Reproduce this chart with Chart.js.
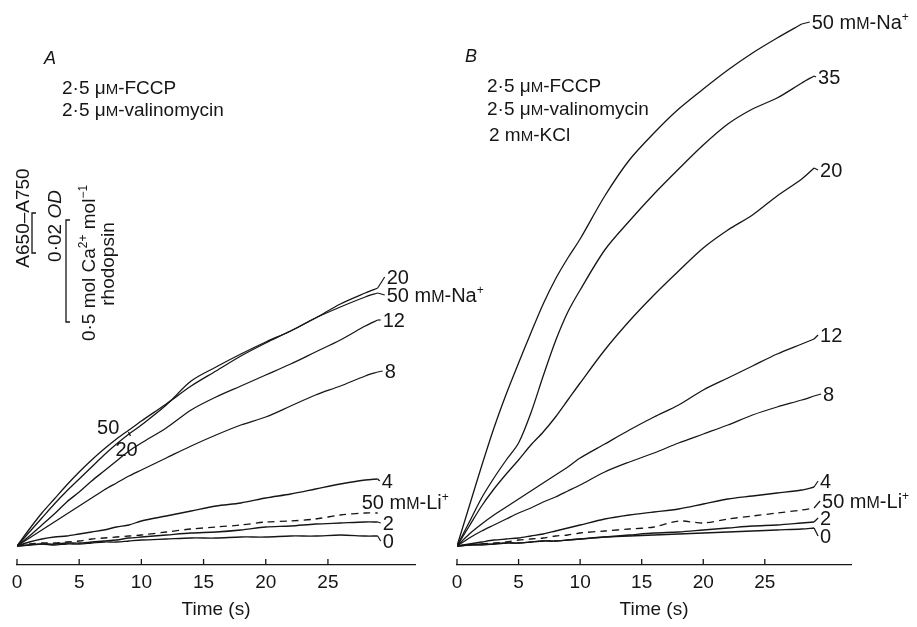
<!DOCTYPE html>
<html>
<head>
<meta charset="utf-8">
<script src="https://cdn.jsdelivr.net/npm/chart.js@4.4.1/dist/chart.umd.min.js"></script>
<style>
  body { margin: 0; background: #fff; }
  #wrap { position: relative; width: 917px; height: 627px; overflow: hidden; }
  #cA { position: absolute; left: 0; top: 0; }
  #cB { position: absolute; left: 440px; top: 0; }
</style>
</head>
<body>
<div id="wrap">
  <canvas id="cA" width="520" height="627"></canvas>
  <canvas id="cB" width="477" height="627"></canvas>
</div>
<script>
// time (s) and absorbance change A650-A750 (units of 0.5 mOD)
const timeA = [0, 1, 2, 3, 4, 5, 6, 7, 8, 9, 10, 12, 14, 16, 18, 20, 22, 24, 26, 28, 29];
const timeB = [0, 1, 2, 3, 4, 5, 6, 7, 8, 9, 10, 12, 14, 16, 18, 20, 22, 24, 26, 28, 29];
const xTicks = [0, 5, 10, 15, 20, 25];

// panel A: FCCP + valinomycin
const naA50 = [0, 17, 33, 47, 61, 74, 86, 97, 107, 116, 125, 142, 160, 175, 190, 203, 215, 228, 239, 249, 253];
const naA20 = [0, 14, 28, 42, 55, 67, 79, 91, 102, 112, 121, 141, 165, 179, 192, 204, 215, 228, 242, 253, 258];
const naA12 = [0, 10, 21, 32, 44, 54, 65, 75, 85, 95, 103, 118, 136, 149, 160, 171, 182, 194, 206, 220, 226];
const naA8  = [0, 8, 16, 24, 32, 40, 48, 56, 63, 70, 76, 88, 100, 111, 121, 129, 140, 151, 160, 170, 174];
const naA4  = [0, 4, 7, 9, 10, 12, 14, 16, 19, 21, 25, 30, 35, 40, 43, 48, 52, 57, 62, 66, 67];
const liA50 = [0, 2, 3, 3, 4, 5, 7, 8, 9, 10, 11, 14, 17, 19, 21, 24, 25, 27, 31, 33, 33];
const naA2  = [0, 1, 2, 2, 3, 3, 4, 5, 6, 8, 9, 11, 13, 14, 16, 19, 20, 22, 23, 24, 24];
const naA0  = [0, 1, 2, 1, 2, 2, 3, 4, 4, 5, 6, 7, 8, 8, 9, 9, 10, 10, 11, 10, 10];

// panel B: FCCP + valinomycin + 2 mM KCl
const naB50 = [0, 40, 80, 118, 152, 183, 213, 242, 267, 288, 307, 350, 386, 413, 437, 457, 476, 493, 508, 522, null];
const naB35 = [0, 24, 48, 68, 86, 103, 133, 170, 205, 234, 256, 296, 325, 352, 377, 401, 422, 437, 448, 463, 470];
const naB20 = [0, 20, 40, 57, 72, 86, 101, 114, 129, 146, 163, 196, 225, 251, 275, 298, 316, 331, 350, 367, 378];
const naB12 = [0, 12, 22, 31, 39, 47, 55, 63, 71, 79, 88, 102, 116, 129, 141, 156, 168, 180, 192, 202, 207];
const naB8  = [0, 8, 15, 21, 27, 33, 38, 44, 49, 55, 61, 74, 84, 93, 103, 112, 121, 131, 139, 146, 150];
const naB4  = [0, 2, 4, 6, 7, 8, 10, 12, 15, 18, 21, 27, 31, 34, 37, 42, 47, 50, 53, 56, 59];
const liB50 = [0, 1, 2, 3, 4, 6, 7, 8, 10, 11, 13, 15, 17, 19, 25, 23, 27, 30, 33, 36, 38];
const naB2  = [0, 1, 1, 2, 3, 3, 4, 5, 5, 6, 7, 9, 11, 13, 14, 16, 18, 20, 21, 23, 24];
const naB0  = [0, 1, 2, 2, 3, 3, 4, 5, 5, 6, 7, 9, 10, 11, 12, 13, 14, 15, 16, 17, 18];

// scale bars, in the same units
const odBar = 40;   // 0.02 OD
const caBar = 102;  // 0.5 mol Ca2+ / mol rhodopsin

const INK = '#161616';
const FAM = '"Liberation Sans", Arial, Helvetica, sans-serif';

function partFont(kind, size) {
  if (kind === 'sc') return { f: Math.round(size * 0.78) + 'px ' + FAM, raise: 0 };
  if (kind === 'sup') return { f: Math.round(size * 0.62) + 'px ' + FAM, raise: size * 0.42 };
  if (kind === 'i') return { f: 'italic ' + size + 'px ' + FAM, raise: 0 };
  return { f: size + 'px ' + FAM, raise: 0 };
}

// draw text made of parts: 'plain' or [text, 'sc' | 'sup' | 'i']
function drawRich(ctx, parts, x, y, size, opt) {
  opt = opt || {};
  const list = parts.map(p => typeof p === 'string' ? [p, 'n'] : p);
  ctx.save();
  ctx.translate(x, y);
  if (opt.rot) ctx.rotate(opt.rot);
  ctx.fillStyle = INK;
  ctx.textBaseline = 'alphabetic';
  let w = 0;
  list.forEach(([t, k]) => { ctx.font = partFont(k, size).f; w += ctx.measureText(t).width; });
  let cx = opt.center ? -w / 2 : 0;
  const base = size * 0.36;
  list.forEach(([t, k]) => {
    const pf = partFont(k, size);
    ctx.font = pf.f;
    ctx.fillText(t, cx, base - pf.raise);
    cx += ctx.measureText(t).width;
  });
  ctx.restore();
}

function series(time, vals) {
  return time.map((t, i) => ({ x: t, y: vals[i] }));
}

function ds(time, vals, dashed) {
  return {
    data: series(time, vals),
    borderColor: INK,
    borderWidth: 1.3,
    borderDash: dashed ? [7, 5] : [],
    pointRadius: 0,
    tension: 0.3,
    fill: false
  };
}

const MM = ['M', 'sc'];

const labelsA = [
  { parts: ['50 m', MM, '-Na', ['+', 'sup']], dx: 9, dy: 2 },
  { parts: ['20'], dx: 9, dy: -11 },
  { parts: ['12'], dx: 5, dy: 0 },
  { parts: ['8'], dx: 7, dy: -1 },
  { parts: ['4'], dx: 4, dy: 2 },
  { parts: ['50 m', MM, '-Li', ['+', 'sup']], dx: -16, dy: -11 },
  { parts: ['2'], dx: 5, dy: 1 },
  { parts: ['0'], dx: 5, dy: 5 }
];
const labelsB = [
  { parts: ['50 m', MM, '-Na', ['+', 'sup']], dx: 10, dy: -2 },
  { parts: ['35'], dx: 4, dy: 1 },
  { parts: ['20'], dx: 6, dy: 2 },
  { parts: ['12'], dx: 6, dy: -4 },
  { parts: ['8'], dx: 9, dy: -2 },
  { parts: ['4'], dx: 6, dy: -6 },
  { parts: ['50 m', MM, '-Li', ['+', 'sup']], dx: 8, dy: -7 },
  { parts: ['2'], dx: 6, dy: -4 },
  { parts: ['0'], dx: 6, dy: 8 }
];

const endLabels = {
  id: 'endLabels',
  afterDatasetsDraw(chart, args, opts) {
    const ctx = chart.ctx;
    opts.items.forEach((lab, i) => {
      const pts = chart.getDatasetMeta(i).data.filter(p => !p.skip);
      const p = pts[pts.length - 1];
      const lx = p.x + lab.dx, ly = p.y + lab.dy;
      if (lab.dx > 3) {
        ctx.save();
        ctx.strokeStyle = INK;
        ctx.lineWidth = 1.2;
        ctx.beginPath();
        ctx.moveTo(p.x, p.y);
        ctx.lineTo(lx - 2, ly);
        ctx.stroke();
        ctx.restore();
      }
      drawRich(ctx, lab.parts, lx, ly, 20);
    });
    (opts.extra || []).forEach(e => {
      const meta = chart.getDatasetMeta(e.ds);
      const p = meta.data[e.idx];
      drawRich(ctx, e.parts, p.x + e.dx, p.y + e.dy, 20);
      if (e.pointer) {
        ctx.save();
        ctx.strokeStyle = INK;
        ctx.lineWidth = 1.3;
        ctx.beginPath();
        ctx.moveTo(p.x + e.pointer[0], p.y + e.pointer[1]);
        ctx.lineTo(p.x + e.pointer[2], p.y + e.pointer[3]);
        ctx.stroke();
        ctx.restore();
      }
    });
  }
};

const upTicks = {
  id: 'upTicks',
  afterDraw(chart) {
    const s = chart.scales.x, ctx = chart.ctx;
    ctx.save();
    ctx.strokeStyle = INK;
    ctx.lineWidth = 1.3;
    xTicks.forEach(v => {
      const px = s.getPixelForValue(v);
      ctx.beginPath();
      ctx.moveTo(px, s.top);
      ctx.lineTo(px, s.top - 6);
      ctx.stroke();
    });
    ctx.restore();
  }
};

const notes = {
  id: 'notes',
  afterDraw(chart, args, opts) {
    const ctx = chart.ctx;
    opts.items.forEach(n => drawRich(ctx, n.parts, n.x, n.y, n.size || 19, { rot: n.rot, center: n.center }));
    if (opts.bars) {
      const y = chart.scales.y;
      const unit = y.getPixelForValue(0) - y.getPixelForValue(1);
      ctx.save();
      ctx.strokeStyle = INK;
      ctx.lineWidth = 1.3;
      opts.bars.forEach(b => {
        const h = b.len * unit;
        ctx.beginPath();
        ctx.moveTo(b.x + 4, b.top);
        ctx.lineTo(b.x, b.top);
        ctx.lineTo(b.x, b.top + h);
        ctx.lineTo(b.x + 4, b.top + h);
        ctx.stroke();
      });
      ctx.restore();
    }
  }
};

function makeChart(id, time, sets, labels, padRight, noteOpts, extra) {
  return new Chart(document.getElementById(id), {
    type: 'line',
    data: { datasets: sets },
    options: {
      responsive: false,
      animation: false,
      layout: { padding: { left: 17, right: padRight, top: 10, bottom: 0 } },
      plugins: {
        legend: { display: false },
        tooltip: { enabled: false },
        endLabels: { items: labels, extra: extra },
        notes: noteOpts
      },
      scales: {
        x: {
          type: 'linear',
          min: 0,
          max: 32,
          afterBuildTicks: s => { s.ticks = xTicks.map(v => ({ value: v })); },
          afterFit: s => { s.height = 62; },
          grid: { display: false, drawTicks: false },
          border: { display: true, color: INK, width: 1.3 },
          ticks: { color: INK, font: { family: FAM, size: 19 }, padding: 6, maxRotation: 0, autoSkip: false },
          title: { display: true, text: 'Time (s)', color: INK, font: { family: FAM, size: 19 }, padding: { top: 0, bottom: 6 } }
        },
        y: { type: 'linear', min: -19, max: 536, display: false }
      }
    },
    plugins: [endLabels, upTicks, notes]
  });
}

makeChart('cA', timeA, [
  ds(timeA, naA50), ds(timeA, naA20), ds(timeA, naA12), ds(timeA, naA8),
  ds(timeA, naA4), ds(timeA, liA50, true), ds(timeA, naA2), ds(timeA, naA0)
], labelsA, 105, {
  items: [
    { parts: [['A', 'i']], x: 44, y: 58, size: 18 },
    { parts: ['2·5 μ', MM, '-FCCP'], x: 62, y: 87 },
    { parts: ['2·5 μ', MM, '-valinomycin'], x: 62, y: 109 },
    { parts: ['A650–A750'], x: 22, y: 218, rot: -Math.PI / 2, center: true },
    { parts: ['0·02 ', ['OD', 'i']], x: 54, y: 226, rot: -Math.PI / 2, center: true },
    { parts: ['0·5 mol Ca', ['2+', 'sup'], ' mol', ['−1', 'sup']], x: 88, y: 263, rot: -Math.PI / 2, center: true },
    { parts: ['rhodopsin'], x: 107, y: 264, rot: -Math.PI / 2, center: true }
  ],
  bars: [
    { x: 32, top: 213, len: odBar },
    { x: 66, top: 220, len: caBar }
  ]
}, [
  { ds: 0, idx: 7, parts: ['50'], dx: -7, dy: -22 },
  { ds: 1, idx: 8, parts: ['20'], dx: -1, dy: 5, pointer: [12, -12, 14, -8] }
]);

makeChart('cB', timeB, [
  ds(timeB, naB50), ds(timeB, naB35), ds(timeB, naB20), ds(timeB, naB12), ds(timeB, naB8),
  ds(timeB, naB4), ds(timeB, liB50, true), ds(timeB, naB2), ds(timeB, naB0)
], labelsB, 66, {
  items: [
    { parts: [['B', 'i']], x: 25, y: 56, size: 18 },
    { parts: ['2·5 μ', MM, '-FCCP'], x: 47, y: 85 },
    { parts: ['2·5 μ', MM, '-valinomycin'], x: 47, y: 108 },
    { parts: ['2 m', MM, '-KCl'], x: 49, y: 134 }
  ]
}, []);
</script>
</body>
</html>
